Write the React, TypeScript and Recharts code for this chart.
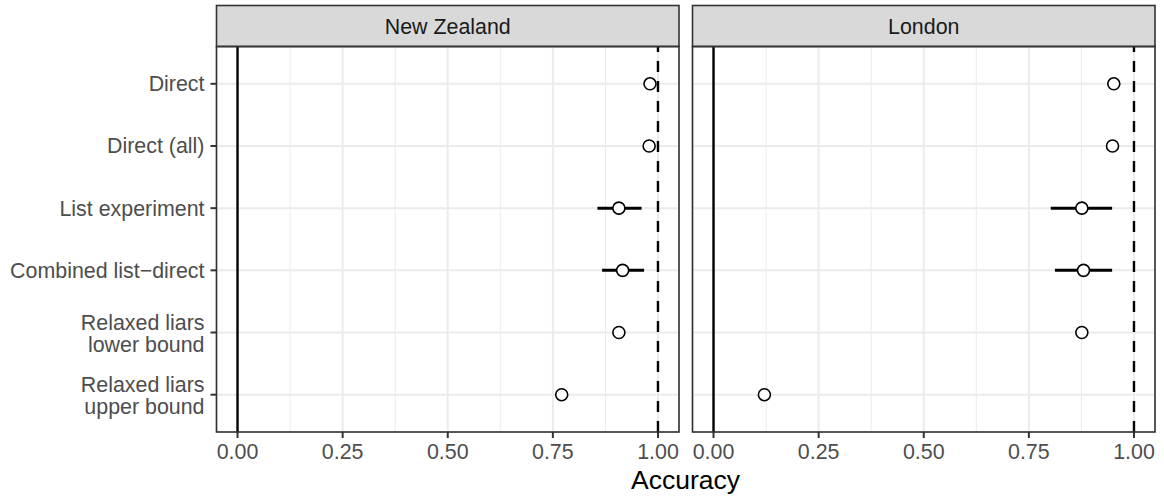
import { ScatterChart, Scatter, XAxis, YAxis, CartesianGrid, ReferenceLine, ErrorBar } from "recharts";

const methods = [
  "Direct",
  "Direct (all)",
  "List experiment",
  "Combined list\u2212direct",
  "Relaxed liars\nlower bound",
  "Relaxed liars\nupper bound",
];
const regions = ["New Zealand", "London"];

const nzAccuracy = [0.981, 0.979, 0.907, 0.916, 0.907, 0.771];
const nzLow = [null, null, 0.856, 0.867, null, null];
const nzHigh = [null, null, 0.961, 0.967, null, null];

const londonAccuracy = [0.952, 0.949, 0.876, 0.88, 0.876, 0.121];
const londonLow = [null, null, 0.802, 0.812, null, null];
const londonHigh = [null, null, 0.948, 0.948, null, null];

const xTicks = [0, 0.25, 0.5, 0.75, 1];
const xMinor = [0.125, 0.375, 0.625, 0.875];
const yTicks = [1, 2, 3, 4, 5, 6];

const FONT = '"Liberation Sans", Arial, Helvetica, sans-serif';

function rows(est: number[], low: (number | null)[], high: (number | null)[]) {
  return est.map((v, i) => ({
    pos: i + 1,
    est: v,
    err: low[i] == null ? [0, 0] : [v - (low[i] as number), (high[i] as number) - v],
  }));
}

const nzData = rows(nzAccuracy, nzLow, nzHigh);
const londonData = rows(londonAccuracy, londonLow, londonHigh);

function MethodTick(props: any) {
  const { x, y, payload } = props;
  const lines = methods[payload.value - 1].split("\n");
  const first = lines.length === 1 ? 7.5 : -2.7;
  return (
    <text x={x} y={y} textAnchor="end" fill="#4d4d4d" fontSize={21.4} fontFamily={FONT}>
      {lines.map((l, i) => (
        <tspan key={i} x={x} dy={i === 0 ? first : 21.7}>
          {l}
        </tspan>
      ))}
    </text>
  );
}

function AccTick(props: any) {
  const { x, y, payload } = props;
  return (
    <text x={x} y={y} dy={19} textAnchor="middle" fill="#4d4d4d" fontSize={21.4} fontFamily={FONT}>
      {payload.value.toFixed(2)}
    </text>
  );
}

function Dot(props: any) {
  return <circle cx={props.cx} cy={props.cy} r={6} fill="#fff" stroke="#000" strokeWidth={1.6} />;
}

const tickStyle = { stroke: "#333333", strokeWidth: 2 };

function Panel({ data, showY, left, width, margin }: any) {
  return (
    <div style={{ position: "absolute", left, top: 0 }}>
      <ScatterChart width={width} height={496} margin={margin}>
        <CartesianGrid stroke="#ebebeb" strokeWidth={2} />
        {xMinor.map((v) => (
          <ReferenceLine key={v} x={v} stroke="#ebebeb" strokeWidth={1} />
        ))}
        <XAxis
          type="number"
          dataKey="est"
          domain={[-0.05, 1.05]}
          ticks={xTicks}
          allowDataOverflow
          interval={0}
          height={64}
          axisLine={false}
          tickLine={tickStyle}
          tickSize={6}
          tick={<AccTick />}
        />
        <YAxis
          type="number"
          dataKey="pos"
          domain={[0.4, 6.6]}
          reversed
          ticks={yTicks}
          allowDataOverflow
          interval={0}
          hide={!showY}
          width={showY ? 216.5 : 0}
          axisLine={false}
          tickLine={tickStyle}
          tickSize={6}
          tickMargin={6}
          tick={<MethodTick />}
        />
        <ReferenceLine x={0} stroke="#000" strokeWidth={2.4} />
        <ReferenceLine x={1} stroke="#000" strokeWidth={2.4} strokeDasharray="11 9" />
        <Scatter data={data} isAnimationActive={false} shape={<Dot />}>
          <ErrorBar dataKey="err" direction="x" width={0} stroke="#000" strokeWidth={3} />
        </Scatter>
      </ScatterChart>
    </div>
  );
}

const panels = [
  { x0: 216.5, x1: 679 },
  { x0: 692.5, x1: 1155 },
];

export default function App() {
  return (
    <div style={{ position: "relative", width: 1164, height: 496, background: "#fff", fontFamily: FONT }}>
      <style>{"body{margin:0}"}</style>
      <Panel data={nzData} showY left={0} width={685} margin={{ top: 46.5, right: 6, bottom: 0, left: 0 }} />
      <Panel data={londonData} showY={false} left={686} width={479} margin={{ top: 46.5, right: 10, bottom: 0, left: 6.5 }} />
      <svg width={1164} height={496} style={{ position: "absolute", left: 0, top: 0, pointerEvents: "none" }}>
        {panels.map((p, i) => (
          <g key={i}>
            <rect x={p.x0} y={5.5} width={p.x1 - p.x0} height={41} fill="#d9d9d9" stroke="#333333" strokeWidth={1.6} />
            <text x={(p.x0 + p.x1) / 2} y={34} textAnchor="middle" fill="#1a1a1a" fontSize={21.4} fontFamily={FONT}>
              {regions[i]}
            </text>
            <rect x={p.x0} y={46.5} width={p.x1 - p.x0} height={385.5} fill="none" stroke="#333333" strokeWidth={1.6} />
          </g>
        ))}
        <text x={685.5} y={489} textAnchor="middle" fill="#000" fontSize={26.5} fontFamily={FONT}>
          Accuracy
        </text>
      </svg>
    </div>
  );
}
